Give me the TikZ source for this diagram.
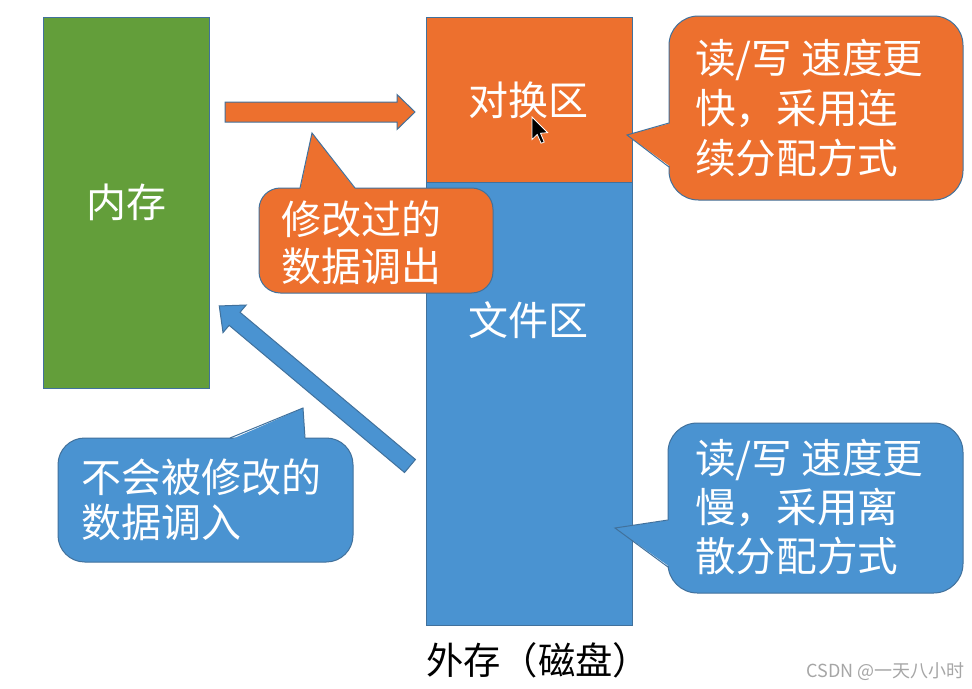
\documentclass[tikz,border=0pt]{standalone}
\usepackage{fontspec}
\setmainfont{Noto Sans CJK SC}
\definecolor{cgreen}{HTML}{639E3A}
\definecolor{corange}{HTML}{ED702E}
\definecolor{cblue}{HTML}{4A93D1}
\definecolor{cline}{HTML}{41719C}
\begin{document}
\begin{tikzpicture}[x=0.75pt,y=-0.75pt,
  shapeline/.style={draw=cline, line width=0.75pt, line join=miter},
  gbox/.style={shapeline, fill=cgreen},
  obox/.style={shapeline, fill=corange},
  bbox/.style={shapeline, fill=cblue},
  wlbl/.style={text=white, inner sep=0pt, font=\fontsize{30}{36}\selectfont},
  wtxt/.style={text=white, inner sep=0pt, align=left, anchor=west},
  ]
\useasboundingbox (0,0) rectangle (972,689);
\fill[white] (0,0) rectangle (972,689);

% memory
\path[gbox] (43,17) rectangle (209,388);
\node[wlbl] (mem) at (126,202) {内存};

% swap area and file area
\path[bbox] (426,182) rectangle (632,625);
\path[obox] (426,17) rectangle (632,182);
\node[wlbl] (swap) at (528,100) {对换区};
\node[wlbl] (file) at (528,320) {文件区};

% cursor
\path[fill=black, draw=white, line width=0.6pt, shift={(532,117)}, scale=1.25]
  (0,0) -- (0,18) -- (4.2,14) -- (7.3,21) -- (9.8,20) -- (6.8,13) -- (12.5,12.5) -- cycle;

% orange arrow (swap out)
\path[obox, shift={(225,112)}, rotate=0]
  (0,-10) -- (172,-10) -- (172,-17.5) -- (190,0) -- (172,17.5) -- (172,10) -- (0,10) -- cycle;
% blue arrow (swap in)
\path[bbox, shift={(410,466)}, rotate=140]
  (0,-8.5) -- (229,-8.5) -- (229,-18) -- (249,0) -- (229,18) -- (229,8.5) -- (0,8.5) -- cycle;

% callout: modified data swapped out
\path[obox, rounded corners=16] (259,188) rectangle (493,293);
\fill[corange] (300,190) -- (312,133) -- (356,190) -- cycle;
\draw[shapeline] (300,188) -- (312,133) -- (355,188);
\node[wtxt, font=\fontsize{30}{35}\selectfont] (out) at (281,243) {修改过的\\数据调出};

% callout: top right
\path[obox, rounded corners=22] (669,16) rectangle (963,200);
\fill[corange] (671,123) -- (627,135) -- (671,167) -- cycle;
\draw[shapeline] (669,123) -- (627,135) -- (669,167);
\node[wtxt, font=\fontsize{30.5}{37.5}\selectfont] (fast) at (695,108) {读/写 速度更\\快，采用连\\续分配方式};

% callout: not modified data swapped in
\path[bbox, rounded corners=20] (58,438) rectangle (353,562);
\fill[cblue] (230,440) -- (303,408) -- (305,440) -- cycle;
\draw[shapeline] (230,438) -- (303,408) -- (305,438);
\node[wtxt, font=\fontsize{30}{34}\selectfont] (in) at (81,500) {不会被修改的\\数据调入};

% callout: bottom right
\path[bbox, rounded corners=22] (668,423) rectangle (963,593);
\fill[cblue] (670,520) -- (615,528) -- (670,567) -- cycle;
\draw[shapeline] (668,520) -- (615,528) -- (668,567);
\node[wtxt, font=\fontsize{30.5}{36.5}\selectfont] (slow) at (695,507) {读/写 速度更\\慢，采用离\\散分配方式};

% caption
\node[inner sep=0pt, font=\fontsize{28}{32}\selectfont] (ext) at (538,660) {外存（磁盘）};
% watermark
\node[inner sep=0pt, text=black!35, font=\fontsize{13.5}{16}\selectfont, anchor=east] (wm) at (965,672) {CSDN @一天八小时};
\end{tikzpicture}
\end{document}
